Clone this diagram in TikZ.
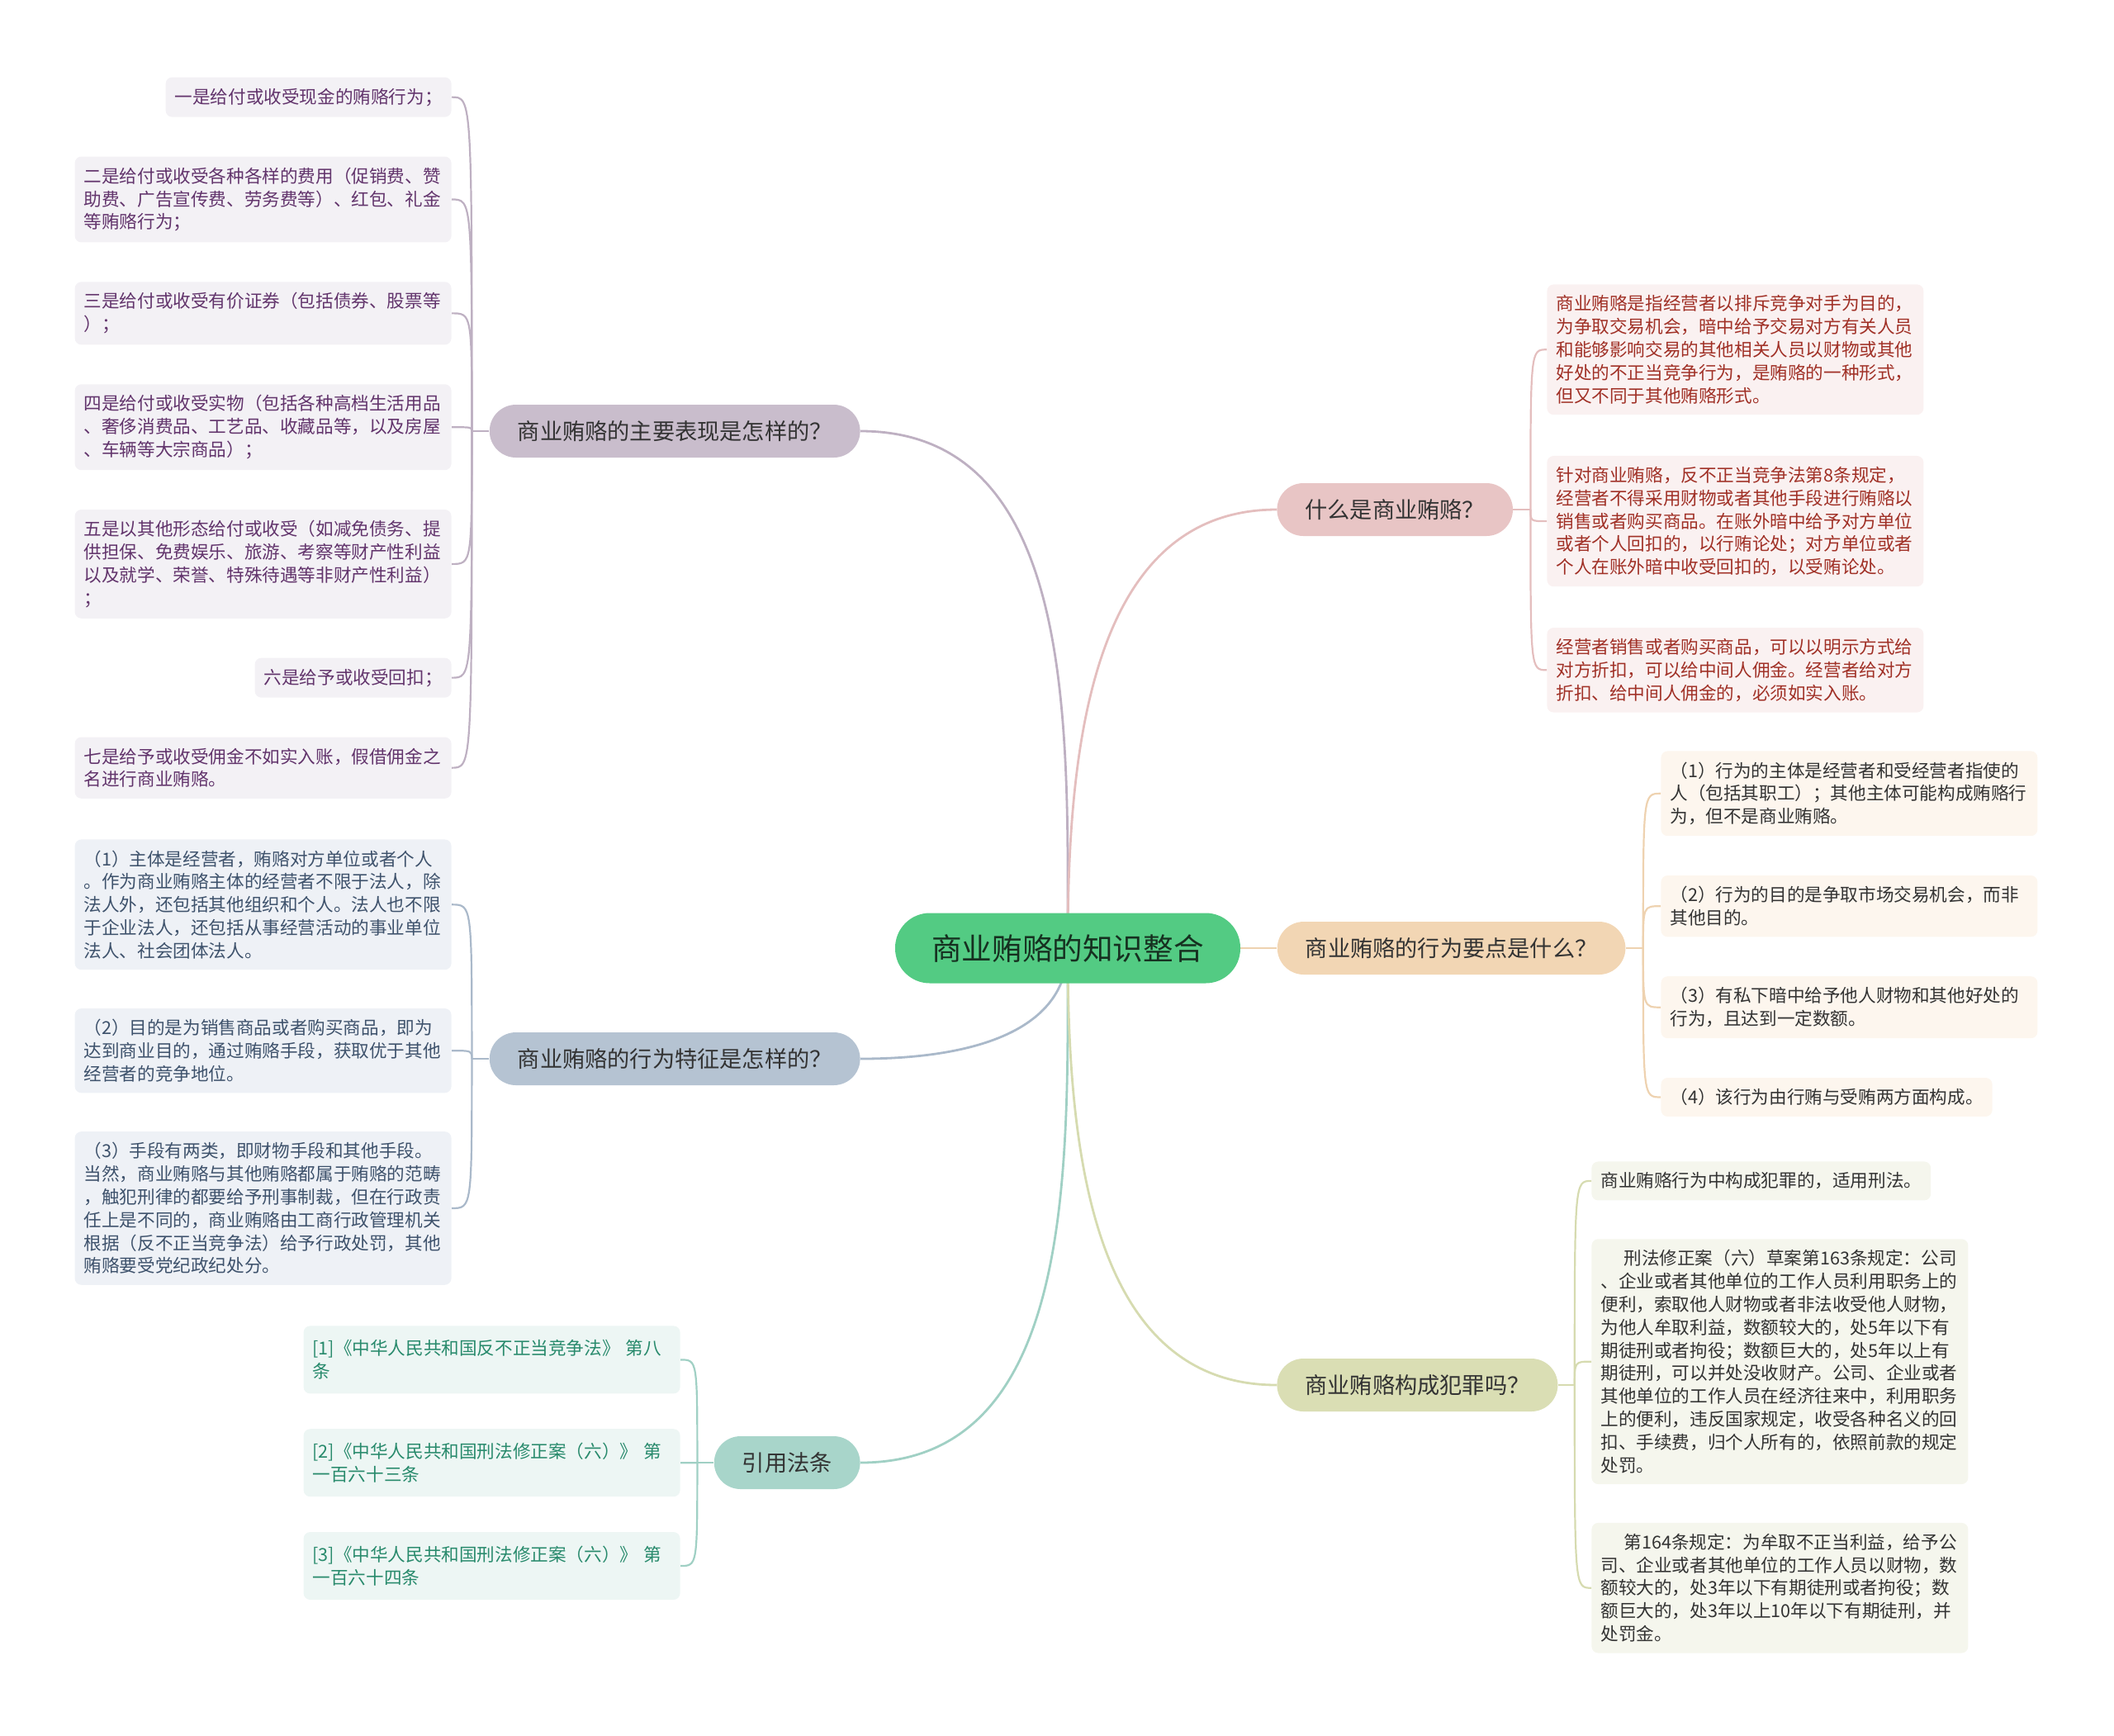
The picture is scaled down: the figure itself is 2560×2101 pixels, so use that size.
\documentclass[tikz,border=0pt]{standalone}
\usepackage{fontspec}
\setmainfont{Noto Sans CJK SC}
\usepackage{xcolor}
\definecolor{rootg}{RGB}{83,203,131}
\definecolor{rootink}{RGB}{22,48,32}
\definecolor{ink}{RGB}{51,51,51}
\definecolor{lilac}{RGB}{201,189,204}
\definecolor{lilacbg}{RGB}{243,241,245}
\definecolor{lilacink}{RGB}{98,52,108}
\definecolor{lilacln}{RGB}{190,176,194}
\definecolor{steel}{RGB}{181,195,210}
\definecolor{steelbg}{RGB}{238,241,246}
\definecolor{steelink}{RGB}{62,82,108}
\definecolor{steelln}{RGB}{170,185,202}
\definecolor{mint}{RGB}{168,213,202}
\definecolor{mintbg}{RGB}{237,246,244}
\definecolor{mintink}{RGB}{40,138,108}
\definecolor{mintln}{RGB}{160,208,196}
\definecolor{rose}{RGB}{232,197,197}
\definecolor{rosebg}{RGB}{250,241,241}
\definecolor{roseink}{RGB}{160,48,38}
\definecolor{roseln}{RGB}{228,190,190}
\definecolor{peach}{RGB}{242,214,180}
\definecolor{peachbg}{RGB}{253,246,238}
\definecolor{peachln}{RGB}{238,210,176}
\definecolor{olive}{RGB}{218,222,180}
\definecolor{olivebg}{RGB}{245,246,237}
\definecolor{oliveln}{RGB}{214,219,176}
\usepackage{tikz}
\usetikzlibrary{positioning,backgrounds}

\begin{document}
\begin{tikzpicture}[
  x=0.5pt, y=0.5pt,
  node distance=23.5pt,
  root/.style={rectangle,rounded corners=21pt,fill=rootg,text=rootink,minimum width=209pt,minimum height=42.5pt,font=\fontsize{18.3}{22}\selectfont},
  branch/.style={rectangle,rounded corners=16pt,minimum height=32pt,inner xsep=17pt,text=ink,font=\fontsize{13.6}{16}\selectfont},
  leaf/.style={rectangle,rounded corners=4pt,inner xsep=5.5pt,inner ysep=6.6pt,align=left,font=\fontsize{10.8}{13.9}\selectfont},
  wide/.style={text width=217pt},
  lilacleaf/.style={leaf,fill=lilacbg,text=lilacink},
  steelleaf/.style={leaf,fill=steelbg,text=steelink},
  mintleaf/.style={leaf,fill=mintbg,text=mintink,minimum height=41pt},
  roseleaf/.style={leaf,fill=rosebg,text=roseink},
  peachleaf/.style={leaf,fill=peachbg,text=ink},
  oliveleaf/.style={leaf,fill=olivebg,text=ink},
  link/.style={line width=1.4pt},
  twig/.style={line width=1.1pt}
]
  \useasboundingbox (0,0) rectangle (2560,-2101);

  % === Root ===
  \node[root] (root) at (1293,-1148) {商业贿赂的知识整合};

  % === Branch Layer ===
  \node[branch,fill=lilac,anchor=east] (b1) at (1042,-522) {商业贿赂的主要表现是怎样的？};
  \node[branch,fill=steel,anchor=east] (b2) at (1042,-1282) {商业贿赂的行为特征是怎样的？};
  \node[branch,fill=mint,anchor=east] (b3) at (1042,-1771) {引用法条};
  \node[branch,fill=rose,anchor=west] (b4) at (1546,-617) {什么是商业贿赂？};
  \node[branch,fill=peach,right=22pt of root] (b5) {商业贿赂的行为要点是什么？};
  \node[branch,fill=olive,anchor=west] (b6) at (1546,-1677) {商业贿赂构成犯罪吗？};

  % === Leaves: main forms ===
  \node[lilacleaf,anchor=east] (a1) at (547,-117.6) {一是给付或收受现金的贿赂行为；};
  \node[lilacleaf,wide,below=of a1.south east,anchor=north east] (a2) {二是给付或收受各种各样的费用（促销费、赞\\助费、广告宣传费、劳务费等）、红包、礼金\\等贿赂行为；};
  \node[lilacleaf,wide,below=of a2.south east,anchor=north east] (a3) {三是给付或收受有价证券（包括债券、股票等\\）；};
  \node[lilacleaf,wide,below=of a3.south east,anchor=north east] (a4) {四是给付或收受实物（包括各种高档生活用品\\、奢侈消费品、工艺品、收藏品等，以及房屋\\、车辆等大宗商品）；};
  \node[lilacleaf,wide,below=of a4.south east,anchor=north east] (a5) {五是以其他形态给付或收受（如减免债务、提\\供担保、免费娱乐、旅游、考察等财产性利益\\以及就学、荣誉、特殊待遇等非财产性利益）\\；};
  \node[lilacleaf,below=of a5.south east,anchor=north east] (a6) {六是给予或收受回扣；};
  \node[lilacleaf,wide,below=of a6.south east,anchor=north east] (a7) {七是给予或收受佣金不如实入账，假借佣金之\\名进行商业贿赂。};

  % === Leaves: features ===
  \node[steelleaf,wide,anchor=north east] (c1) at (547,-1016) {（1）主体是经营者，贿赂对方单位或者个人\\。作为商业贿赂主体的经营者不限于法人，除\\法人外，还包括其他组织和个人。法人也不限\\于企业法人，还包括从事经营活动的事业单位\\法人、社会团体法人。};
  \node[steelleaf,wide,below=23pt of c1.south east,anchor=north east] (c2) {（2）目的是为销售商品或者购买商品，即为\\达到商业目的，通过贿赂手段，获取优于其他\\经营者的竞争地位。};
  \node[steelleaf,wide,below=23pt of c2.south east,anchor=north east] (c3) {（3）手段有两类，即财物手段和其他手段。\\当然，商业贿赂与其他贿赂都属于贿赂的范畴\\，触犯刑律的都要给予刑事制裁，但在行政责\\任上是不同的，商业贿赂由工商行政管理机关\\根据（反不正当竞争法）给予行政处罚，其他\\贿赂要受党纪政纪处分。};

  % === Leaves: cited laws ===
  \node[mintleaf,wide,anchor=north east] (d1) at (824,-1605) {[1]《中华人民共和国反不正当竞争法》 第八\\条};
  \node[mintleaf,wide,below=21pt of d1.south east,anchor=north east] (d2) {[2]《中华人民共和国刑法修正案（六）》 第\\一百六十三条};
  \node[mintleaf,wide,below=21pt of d2.south east,anchor=north east] (d3) {[3]《中华人民共和国刑法修正案（六）》 第\\一百六十四条};

  % === Leaves: definition ===
  \node[roseleaf,wide,anchor=north west] (e1) at (1873,-344) {商业贿赂是指经营者以排斥竞争对手为目的，\\为争取交易机会，暗中给予交易对方有关人员\\和能够影响交易的其他相关人员以财物或其他\\好处的不正当竞争行为，是贿赂的一种形式，\\但又不同于其他贿赂形式。};
  \node[roseleaf,wide,below=24.5pt of e1.south west,anchor=north west] (e2) {针对商业贿赂，反不正当竞争法第8条规定，\\经营者不得采用财物或者其他手段进行贿赂以\\销售或者购买商品。在账外暗中给予对方单位\\或者个人回扣的，以行贿论处；对方单位或者\\个人在账外暗中收受回扣的，以受贿论处。};
  \node[roseleaf,wide,below=24.5pt of e2.south west,anchor=north west] (e3) {经营者销售或者购买商品，可以以明示方式给\\对方折扣，可以给中间人佣金。经营者给对方\\折扣、给中间人佣金的，必须如实入账。};

  % === Leaves: key points ===
  \node[peachleaf,wide,anchor=north west] (f1) at (2011,-909) {（1）行为的主体是经营者和受经营者指使的\\人（包括其职工）；其他主体可能构成贿赂行\\为，但不是商业贿赂。};
  \node[peachleaf,wide,below=of f1.south west,anchor=north west] (f2) {（2）行为的目的是争取市场交易机会，而非\\其他目的。};
  \node[peachleaf,wide,below=of f2.south west,anchor=north west] (f3) {（3）有私下暗中给予他人财物和其他好处的\\行为，且达到一定数额。};
  \node[peachleaf,below=of f3.south west,anchor=north west] (f4) {（4）该行为由行贿与受贿两方面构成。};

  % === Leaves: crime ===
  \node[oliveleaf,anchor=north west] (h1) at (1927,-1406) {商业贿赂行为中构成犯罪的，适用刑法。};
  \node[oliveleaf,wide,below=23pt of h1.south west,anchor=north west] (h2) {\hspace*{1.3em}刑法修正案（六）草案第163条规定：公司\\、企业或者其他单位的工作人员利用职务上的\\便利，索取他人财物或者非法收受他人财物，\\为他人牟取利益，数额较大的，处5年以下有\\期徒刑或者拘役；数额巨大的，处5年以上有\\期徒刑，可以并处没收财产。公司、企业或者\\其他单位的工作人员在经济往来中，利用职务\\上的便利，违反国家规定，收受各种名义的回\\扣、手续费，归个人所有的，依照前款的规定\\处罚。};
  \node[oliveleaf,wide,below=23pt of h2.south west,anchor=north west] (h3) {\hspace*{1.3em}第164条规定：为牟取不正当利益，给予公\\司、企业或者其他单位的工作人员以财物，数\\额较大的，处3年以下有期徒刑或者拘役；数\\额巨大的，处3年以上10年以下有期徒刑，并\\处罚金。};

  % === Root links ===
  \begin{scope}[on background layer]
    \draw[link,lilacln] (root.center) to[out=90,in=0] (b1.east);
    \draw[link,steelln] (root.center) to[out=270,in=0] (b2.east);
    \draw[link,mintln] (root.center) to[out=270,in=0] (b3.east);
    \draw[link,roseln] (root.center) to[out=90,in=180] (b4.west);
    \draw[link,peachln] (root.center) -- (b5.west);
    \draw[link,oliveln] (root.center) to[out=270,in=180] (b6.west);
  \end{scope}

  % === Twigs ===
  \coordinate (j1) at ([xshift=-10.5pt]b1.west);
  \coordinate (j2) at ([xshift=-10.5pt]b2.west);
  \coordinate (j3) at ([xshift=-10pt]b3.west);
  \coordinate (j4) at ([xshift=10.5pt]b4.east);
  \coordinate (j5) at ([xshift=10.5pt]b5.east);
  \coordinate (j6) at ([xshift=10pt]b6.east);

  \draw[twig,lilacln] (b1.west) -- (j1);
  \draw[twig,lilacln] (j1) .. controls (j1 |- a1) and (j1 |- a1) .. (a1.east);
  \draw[twig,lilacln] (j1) .. controls (j1 |- a2) and (j1 |- a2) .. (a2.east);
  \draw[twig,lilacln] (j1) .. controls (j1 |- a3) and (j1 |- a3) .. (a3.east);
  \draw[twig,lilacln] (j1) .. controls (j1 |- a4) and (j1 |- a4) .. (a4.east);
  \draw[twig,lilacln] (j1) .. controls (j1 |- a5) and (j1 |- a5) .. (a5.east);
  \draw[twig,lilacln] (j1) .. controls (j1 |- a6) and (j1 |- a6) .. (a6.east);
  \draw[twig,lilacln] (j1) .. controls (j1 |- a7) and (j1 |- a7) .. (a7.east);

  \draw[twig,steelln] (b2.west) -- (j2);
  \draw[twig,steelln] (j2) .. controls (j2 |- c1) and (j2 |- c1) .. (c1.east);
  \draw[twig,steelln] (j2) .. controls (j2 |- c2) and (j2 |- c2) .. (c2.east);
  \draw[twig,steelln] (j2) .. controls (j2 |- c3) and (j2 |- c3) .. (c3.east);

  \draw[twig,mintln] (b3.west) -- (j3);
  \draw[twig,mintln] (j3) .. controls (j3 |- d1) and (j3 |- d1) .. (d1.east);
  \draw[twig,mintln] (j3) .. controls (j3 |- d2) and (j3 |- d2) .. (d2.east);
  \draw[twig,mintln] (j3) .. controls (j3 |- d3) and (j3 |- d3) .. (d3.east);

  \draw[twig,roseln] (b4.east) -- (j4);
  \draw[twig,roseln] (j4) .. controls (j4 |- e1) and (j4 |- e1) .. (e1.west);
  \draw[twig,roseln] (j4) .. controls (j4 |- e2) and (j4 |- e2) .. (e2.west);
  \draw[twig,roseln] (j4) .. controls (j4 |- e3) and (j4 |- e3) .. (e3.west);

  \draw[twig,peachln] (b5.east) -- (j5);
  \draw[twig,peachln] (j5) .. controls (j5 |- f1) and (j5 |- f1) .. (f1.west);
  \draw[twig,peachln] (j5) .. controls (j5 |- f2) and (j5 |- f2) .. (f2.west);
  \draw[twig,peachln] (j5) .. controls (j5 |- f3) and (j5 |- f3) .. (f3.west);
  \draw[twig,peachln] (j5) .. controls (j5 |- f4) and (j5 |- f4) .. (f4.west);

  \draw[twig,oliveln] (b6.east) -- (j6);
  \draw[twig,oliveln] (j6) .. controls (j6 |- h1) and (j6 |- h1) .. (h1.west);
  \draw[twig,oliveln] (j6) .. controls (j6 |- h2) and (j6 |- h2) .. (h2.west);
  \draw[twig,oliveln] (j6) .. controls (j6 |- h3) and (j6 |- h3) .. (h3.west);
\end{tikzpicture}
\end{document}
